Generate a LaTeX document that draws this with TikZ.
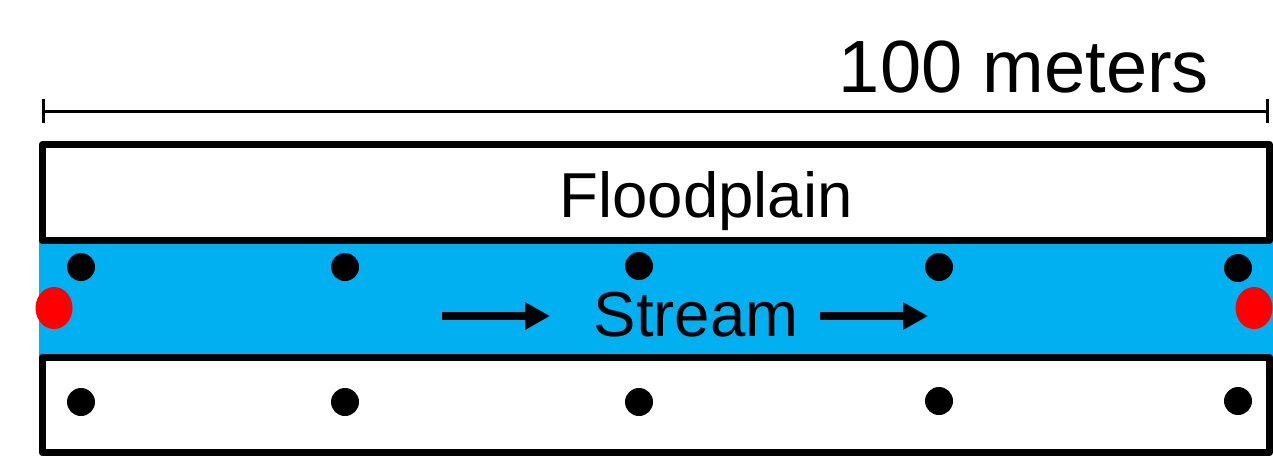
\documentclass[tikz,border=0pt]{standalone}
\usepackage{fontspec}
\setmainfont{Liberation Sans}
\usetikzlibrary{arrows.meta,shapes.geometric}

\begin{document}
\begin{tikzpicture}[x=1pt,y=-1pt]
\tikzstyle{bank}=[draw=black, line width=7pt, line join=round]
\tikzstyle{water}=[fill={rgb,255:red,0;green,176;blue,240}]
\tikzstyle{site}=[circle, fill=black, inner sep=0pt, minimum size=28pt]
\tikzstyle{gauge}=[ellipse, fill=red, inner sep=0pt, minimum width=37pt, minimum height=42pt]
\tikzstyle{flow}=[-{Triangle[length=25pt,width=26pt]}, line width=8pt]
\tikzstyle{scalebar}=[{Bar[width=24pt]}-{Bar[width=24pt]}, line width=3pt]
\tikzstyle{label}=[inner sep=0pt, anchor=base, font=\fontsize{63.5}{70}\selectfont]

  \useasboundingbox (0,0) rectangle (1273,456);

  % scale
  \coordinate (scaleL) at (42,111);
  \coordinate (scaleR) at (1269,111);
  \draw[scalebar] (scaleL) -- (scaleR);
  \node[label, font=\fontsize{74}{80}\selectfont] (dist) at (1024,92) {100 meters};

  % stream and banks
  \fill[water] (39,240) rectangle (1273,357);
  \draw[bank] (42,144.5) rectangle (1269.5,240.5);
  \draw[bank] (42,357.5) rectangle (1269.5,452.5);
  \node[label] (plain) at (706,217) {Floodplain};
  \node[label] (stream) at (696,336) {Stream};

  \coordinate (f1a) at (442,316);
  \coordinate (f1b) at (550,316);
  \coordinate (f2a) at (820,316);
  \coordinate (f2b) at (928,316);
  \draw[flow] (f1a) -- (f1b);
  \draw[flow] (f2a) -- (f2b);

  % sampling sites
  \node[site] (s1) at (81,267) {};
  \node[site] (s2) at (345,267) {};
  \node[site] (s3) at (639,266) {};
  \node[site] (s4) at (939,267) {};
  \node[site] (s5) at (1238,268) {};
  \node[site] (b1) at (81,402) {};
  \node[site] (b2) at (345,402) {};
  \node[site] (b3) at (639,402) {};
  \node[site] (b4) at (939,401) {};
  \node[site] (b5) at (1238,401) {};
  \node[gauge] (up) at (54,308) {};
  \node[gauge] (down) at (1254,308) {};
\end{tikzpicture}
\end{document}
